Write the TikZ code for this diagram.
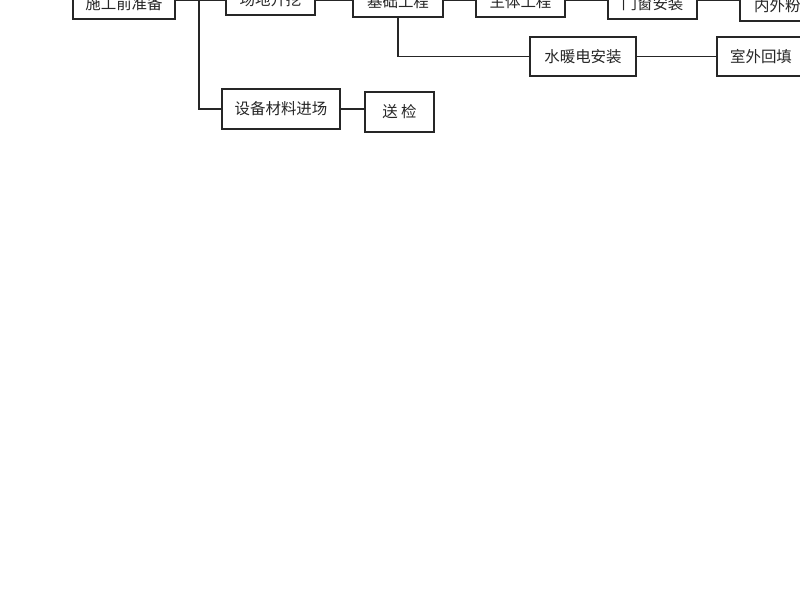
\documentclass[tikz,border=0pt]{standalone}
\usepackage{fontspec}
\newfontfamily\cjk{Noto Sans CJK SC}
\newlength\unitpx
\setlength\unitpx{0.025cm}

\tikzset{
  stepbox/.style={draw, line width=0.8pt, fill=white, inner sep=0pt,
    minimum height=40\unitpx, font=\cjk\fontsize{11}{13}\selectfont},
  topbox/.style={stepbox, minimum height=30\unitpx},
  link/.style={line width=0.8pt}
}

\begin{document}
\begin{tikzpicture}[x=0.025cm, y=-0.025cm, color=black!85]
\useasboundingbox (0,0) rectangle (800,600);
\clip (0,0) rectangle (800,600);

\node[topbox, minimum width=102\unitpx] (prep) at (124,4) {施工前准备}; % top row
\node[topbox, minimum width=89\unitpx] (dig) at (270.5,0) {场地开挖};
\node[topbox, minimum width=90\unitpx] (found) at (398,2) {基础工程};
\node[topbox, minimum width=89\unitpx] (body) at (520.5,2) {主体工程};
\node[topbox, minimum width=89\unitpx] (window) at (652.5,4) {门窗安装};
\node[topbox, minimum width=90\unitpx] (plaster) at (785,6) {内外粉刷};

\node[stepbox, minimum width=118\unitpx] (material) at (281,109) {设备材料进场};
\node[stepbox, minimum width=69\unitpx] (test) at (399.5,112) {送\ 检};
\node[stepbox, minimum width=106\unitpx, minimum height=39\unitpx] (hvac) at (583,56.5) {水暖电安装};
\node[stepbox, minimum width=88\unitpx, minimum height=39\unitpx] (backfill) at (761,56.5) {室外回填};

\coordinate (split) at (199,0);

\draw[link] (prep.east |- split) -- (dig.west |- split);
\draw[link] (dig.east |- split) -- (found.west |- split);
\draw[link] (found.east |- split) -- (body.west |- split);
\draw[link] (body.east |- split) -- (window.west |- split);
\draw[link] (window.east |- split) -- (plaster.west |- split);
\draw[link] (split) |- (material.west); % branch to materials
\draw[link] (material.east) -- (material.east -| test.west);
\draw[link] (found.south) |- (hvac.west); % branch to services
\draw[link] (hvac.east) -- (backfill.west);
\end{tikzpicture}
\end{document}
